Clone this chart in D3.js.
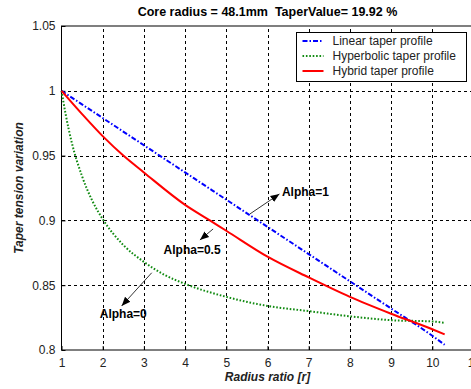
<!DOCTYPE html>
<html lang="en">
<head>
<meta charset="UTF-8">
<title>Taper tension variation</title>
<script src="https://d3js.org/d3.v7.min.js"></script>
<style>
  body { margin: 0; background: #fff; }
  svg { display: block; font-family: Arial, "Liberation Sans", sans-serif; }
</style>
</head>
<body>
<div id="chart"></div>
<script>
// values
const linearR = [1, 2, 3, 4, 5, 6, 7, 8, 9, 10, 10.3];
const linearT = [1, 0.979, 0.958, 0.937, 0.916, 0.895, 0.874, 0.853, 0.832, 0.811, 0.804];

const hyperR = [1, 1.1, 1.25, 1.5, 1.75, 2, 2.5, 3, 3.5, 4, 5, 6, 7, 8, 9, 10, 10.3];
const hyperT = [1, 0.982, 0.960, 0.934, 0.915, 0.901, 0.881, 0.868, 0.858, 0.851, 0.841, 0.834, 0.830, 0.826, 0.823, 0.822, 0.821];

const hybridR = [1, 1.5, 2, 2.5, 3, 4, 4.6, 5, 6, 7, 8, 9, 10, 10.3];
const hybridT = [1, 0.982, 0.965, 0.950, 0.937, 0.912, 0.900, 0.892, 0.872, 0.856, 0.841, 0.828, 0.816, 0.812];

const xTicks = [1, 2, 3, 4, 5, 6, 7, 8, 9, 10, 11];
const yTicks = [0.8, 0.85, 0.9, 0.95, 1, 1.05];

const seriesNames = ["Linear taper profile", "Hyperbolic taper profile", "Hybrid taper profile"];

const notes = [
  {text: "Alpha=1",   tx: 6.35, ty: 0.922, x1: 5.575, y1: 0.905, x2: 6.29, y2: 0.9204, anchor: "start"},
  {text: "Alpha=0.5", tx: 4.17, ty: 0.877, x1: 4.68,  y1: 0.8934, x2: 4.36, y2: 0.8849, anchor: "middle"},
  {text: "Alpha=0",   tx: 2.50, ty: 0.8283, x1: 3.19, y1: 0.8596, x2: 2.46, y2: 0.834, anchor: "middle"}
];

const width = 471, height = 389;
const svg = d3.select("#chart").append("svg")
  .attr("width", width).attr("height", height);

const x = d3.scaleLinear().domain([1, 11]).range([61.5, 473.5]);
const y = d3.scaleLinear().domain([0.8, 1.05]).range([350, 26]);

// grid
const grid = svg.append("g").attr("stroke", "#000").attr("stroke-width", 1)
  .attr("stroke-dasharray", "3,3").attr("shape-rendering", "crispEdges");
grid.selectAll(".gx").data(xTicks.slice(1, -1)).join("line")
  .attr("x1", d => Math.round(x(d)) + 0.5).attr("x2", d => Math.round(x(d)) + 0.5)
  .attr("y1", y(0.8)).attr("y2", y(1.05));
grid.selectAll(".gy").data(yTicks.slice(1, -1)).join("line")
  .attr("y1", d => Math.round(y(d)) + 0.5).attr("y2", d => Math.round(y(d)) + 0.5)
  .attr("x1", x(1)).attr("x2", x(11));

// axes (ticks inward, like matlab)
const xAxis = svg.append("g").attr("transform", `translate(0,${y(0.8)})`)
  .call(d3.axisBottom(x).tickValues(xTicks).tickFormat(d3.format("d")).tickSizeInner(-4).tickSizeOuter(0).tickPadding(8));
const yAxis = svg.append("g").attr("transform", `translate(${x(1)},0)`)
  .call(d3.axisLeft(y).tickValues(yTicks).tickFormat(d => String(d)).tickSizeInner(-4).tickSizeOuter(0).tickPadding(6));
[xAxis, yAxis].forEach(a => {
  a.selectAll("text").attr("font-size", 12).attr("fill", "#222").attr("font-family", "Arial, 'Liberation Sans', sans-serif");
  a.select(".domain").remove();
});

// box
svg.append("rect")
  .attr("x", x(1)).attr("y", y(1.05))
  .attr("width", x(11) - x(1)).attr("height", y(0.8) - y(1.05))
  .attr("fill", "none").attr("stroke", "#000").attr("stroke-width", 1);

// curves
const series = [
  {name: seriesNames[0], pts: d3.zip(linearR, linearT), color: "#0000ff", dash: "5,2,1.5,2"},
  {name: seriesNames[1], pts: d3.zip(hyperR, hyperT), color: "#108a10", dash: "1.6,1.8"},
  {name: seriesNames[2], pts: d3.zip(hybridR, hybridT), color: "#ff0000", dash: null}
];
const lineFn = d3.line().curve(d3.curveMonotoneX).x(d => x(d[0])).y(d => y(d[1]));
svg.append("g").selectAll("path").data(series).join("path")
  .attr("d", d => lineFn(d.pts))
  .attr("fill", "none")
  .attr("stroke", d => d.color)
  .attr("stroke-width", 2)
  .attr("stroke-dasharray", d => d.dash);

// annotations
svg.append("defs").append("marker")
  .attr("id", "arr").attr("viewBox", "0 -5 10 10")
  .attr("refX", 10).attr("refY", 0)
  .attr("markerWidth", 9).attr("markerHeight", 9)
  .attr("markerUnits", "userSpaceOnUse")
  .attr("orient", "auto")
  .append("path").attr("d", "M0,-4L10,0L0,4Z").attr("fill", "#000");

const ann = svg.append("g");
ann.selectAll("line").data(notes).join("line")
  .attr("x1", d => x(d.x1)).attr("y1", d => y(d.y1))
  .attr("x2", d => x(d.x2)).attr("y2", d => y(d.y2))
  .attr("stroke", "#000").attr("stroke-width", 0.8)
  .attr("marker-end", "url(#arr)");
ann.selectAll("text").data(notes).join("text")
  .attr("x", d => x(d.tx)).attr("y", d => y(d.ty))
  .attr("dy", "0.35em")
  .attr("text-anchor", d => d.anchor)
  .attr("font-size", 12).attr("font-weight", "bold")
  .text(d => d.text);

// legend
const lg = svg.append("g").attr("transform", "translate(296.5,32.5)");
lg.append("rect").attr("width", 170).attr("height", 49)
  .attr("fill", "#fff").attr("stroke", "#000").attr("stroke-width", 1);
const row = lg.selectAll("g").data(series).join("g")
  .attr("transform", (d, i) => `translate(0,${8.5 + i * 15})`);
row.append("line").attr("x1", 6).attr("x2", 27)
  .attr("stroke", d => d.color).attr("stroke-width", 2)
  .attr("stroke-dasharray", d => d.dash);
row.append("text").attr("x", 36).attr("dy", "0.35em")
  .attr("font-size", 12).attr("fill", "#222").text(d => d.name);

// title & axis labels
svg.append("text").attr("x", (x(1) + x(11)) / 2).attr("y", 16)
  .attr("text-anchor", "middle").attr("font-size", 12.5).attr("font-weight", "bold")
  .style("white-space", "pre")
  .text("Core radius = 48.1mm  TaperValue= 19.92 %");
svg.append("text").attr("x", (x(1) + x(11)) / 2).attr("y", 381)
  .attr("text-anchor", "middle").attr("font-size", 12)
  .attr("font-weight", "bold").attr("font-style", "italic").attr("fill", "#222")
  .text("Radius ratio [r]");
svg.append("text").attr("transform", `translate(23,${(y(0.8) + y(1.05)) / 2}) rotate(-90)`)
  .attr("text-anchor", "middle").attr("font-size", 12)
  .attr("font-weight", "bold").attr("font-style", "italic").attr("fill", "#222")
  .text("Taper tension variation");
</script>
</body>
</html>
